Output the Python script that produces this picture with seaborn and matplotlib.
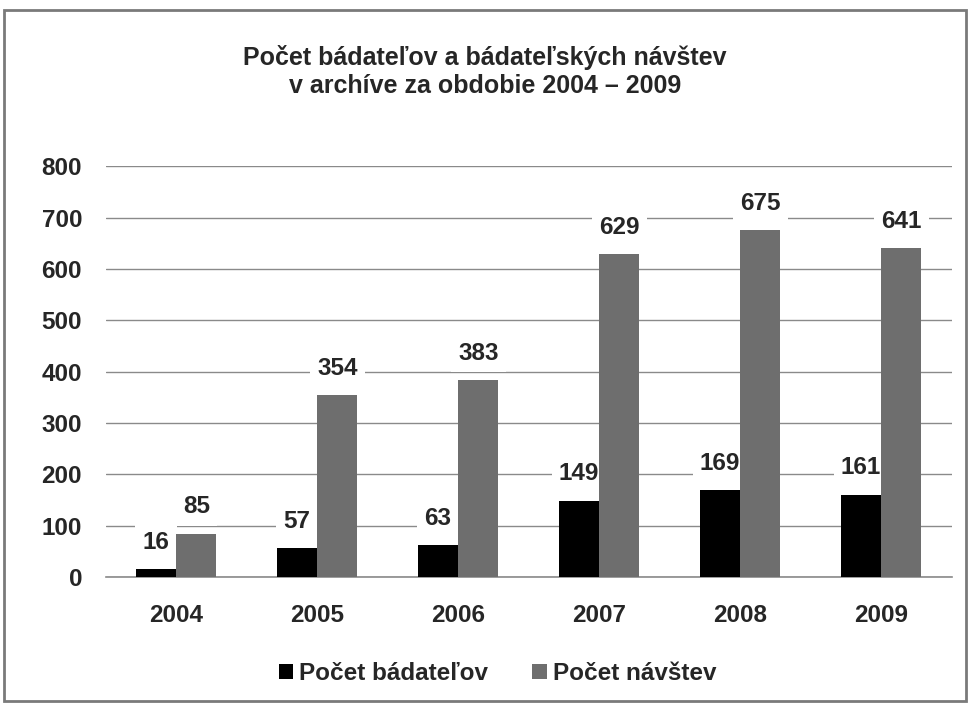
import pandas as pd
import seaborn as sns
from matplotlib import pyplot as plt
from matplotlib.patches import Rectangle

years = ['2004', '2005', '2006', '2007', '2008', '2009']
researchers = [16, 57, 63, 149, 169, 161]
visits = [85, 354, 383, 629, 675, 641]
series_names = ['Počet bádateľov', 'Počet návštev']
title = 'Počet bádateľov a bádateľských návštev\nv archíve za obdobie 2004 – 2009'

df = pd.DataFrame({
    'rok': years * 2,
    'hodnota': researchers + visits,
    'séria': [series_names[0]] * len(years) + [series_names[1]] * len(years),
})

sns.set_style('white')
plt.rcParams['font.family'] = ['Liberation Sans', 'DejaVu Sans']
plt.rcParams['font.weight'] = 'bold'

fig = plt.figure(figsize=(9.7, 7.04), dpi=100)
ax = fig.add_axes([0.109, 0.180, 0.872, 0.584])

sns.barplot(data=df, x='rok', y='hodnota', hue='séria', ax=ax,
            palette=['#000000', '#6e6e6e'], width=0.57, saturation=1,
            edgecolor='none', linewidth=0, zorder=3)

ax.set_ylim(0, 800)
ax.set_yticks(range(0, 801, 100))
ax.set_xlim(-0.5, len(years) - 0.5)
ax.yaxis.grid(True, color='#8a8a8a', linewidth=1, zorder=0)
ax.set_axisbelow(True)
for s in ['left', 'right', 'top']:
    ax.spines[s].set_visible(False)
ax.spines['bottom'].set_color('#8a8a8a')
ax.spines['bottom'].set_linewidth(1.2)
ax.set_xlabel('')
ax.set_ylabel('')

ax.tick_params(axis='y', length=0, labelsize=17.5, pad=17)
ax.tick_params(axis='x', which='major', length=0, labelsize=17.5, pad=19)
ax.set_xticks([i - 0.5 for i in range(len(years) + 1)], minor=True)
ax.tick_params(axis='x', which='minor', length=6, color='#8a8a8a', width=1.2, direction='out')
for lbl in ax.get_xticklabels() + ax.get_yticklabels():
    lbl.set_fontweight('bold')

# value labels sit under the bars, white box only hides the gridlines
for cont in ax.containers:
    for bar in cont:
        h = bar.get_height()
        ax.annotate(f'{int(h)}', (bar.get_x() + bar.get_width() / 2, h),
                    xytext=(0, 11), textcoords='offset points',
                    ha='center', va='bottom', fontsize=17.5, fontweight='bold',
                    bbox=dict(boxstyle='square,pad=0.3', fc='white', ec='none'),
                    zorder=2.5)

ax.legend(loc='center', bbox_to_anchor=(0.463, -0.234), ncol=2, frameon=False,
          handlelength=0.6, handleheight=0.6, handletextpad=0.25,
          columnspacing=1.8, prop={'weight': 'bold', 'size': 17.5})

fig.text(0.5, 0.899, title, ha='center', va='center', fontsize=18,
         fontweight='bold', linespacing=1.2)

fig.patches.append(Rectangle((0.004, 0.004), 0.992, 0.982, transform=fig.transFigure,
                             fill=False, edgecolor='#7a7a7a', linewidth=2))

fig.savefig('out.png', dpi=100, facecolor='white')
